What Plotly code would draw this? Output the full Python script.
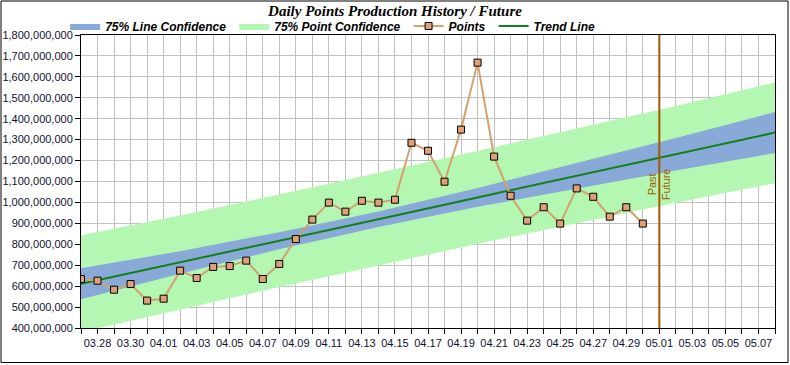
import plotly.graph_objects as go

# ---- data ----
point_dates = [
    "2023-03-27", "2023-03-28", "2023-03-29", "2023-03-30", "2023-03-31",
    "2023-04-01", "2023-04-02", "2023-04-03", "2023-04-04", "2023-04-05",
    "2023-04-06", "2023-04-07", "2023-04-08", "2023-04-09", "2023-04-10",
    "2023-04-11", "2023-04-12", "2023-04-13", "2023-04-14", "2023-04-15",
    "2023-04-16", "2023-04-17", "2023-04-18", "2023-04-19", "2023-04-20",
    "2023-04-21", "2023-04-22", "2023-04-23", "2023-04-24", "2023-04-25",
    "2023-04-26", "2023-04-27", "2023-04-28", "2023-04-29", "2023-04-30",
]
points_millions = [
    634, 626, 583, 610, 531, 540, 674, 639, 692, 696,
    722, 634, 706, 825, 918, 999, 956, 1008, 999, 1013,
    1285, 1247, 1099, 1348, 1668, 1219, 1032, 913, 977, 899,
    1067, 1027, 932, 977, 899,
]

band_dates = ["2023-03-27", "2023-04-02", "2023-04-08", "2023-04-14",
              "2023-04-20", "2023-04-26", "2023-05-02", "2023-05-08"]
trend_millions = [611, 713, 817, 920, 1024, 1127, 1230, 1334]
line_hi_millions = [686, 767, 858, 957, 1069, 1187, 1308, 1432]
line_lo_millions = [537, 659, 776, 883, 979, 1067, 1152, 1236]
point_hi_millions = [843, 937, 1038, 1141, 1246, 1353, 1461, 1573]
point_lo_millions = [380, 489, 596, 699, 802, 901, 999, 1092]

divider_date = "2023-05-01"
divider_label_value = 1088e6

M = 1e6
pts = [v * M for v in points_millions]
trend = [v * M for v in trend_millions]
lhi = [v * M for v in line_hi_millions]
llo = [v * M for v in line_lo_millions]
phi = [v * M for v in point_hi_millions]
plo = [v * M for v in point_lo_millions]

GREEN_FILL = "#b3f7b3"
BLUE_FILL = "#89aad9"
PT_LINE = "#d4a070"
PT_FILL = "#dfa276"
TREND = "#138013"
BROWN = "#a05a00"
NB = "\u00a0"

fig = go.Figure()

# point confidence band (green)
fig.add_trace(go.Scatter(x=band_dates, y=plo, mode="lines", line=dict(width=0, color=GREEN_FILL),
                         showlegend=False, hoverinfo="skip"))
fig.add_trace(go.Scatter(x=band_dates, y=phi, mode="lines", line=dict(width=0, color=GREEN_FILL),
                         fill="tonexty", fillcolor=GREEN_FILL, name="75% Point Confidence" + NB,
                         legendrank=2))
# line confidence band (blue)
fig.add_trace(go.Scatter(x=band_dates, y=llo, mode="lines", line=dict(width=0, color=BLUE_FILL),
                         showlegend=False, hoverinfo="skip"))
fig.add_trace(go.Scatter(x=band_dates, y=lhi, mode="lines", line=dict(width=0, color=BLUE_FILL),
                         fill="tonexty", fillcolor=BLUE_FILL, name="75% Line Confidence" + NB,
                         legendrank=1))
# trend
fig.add_trace(go.Scatter(x=band_dates, y=trend, mode="lines", line=dict(width=2, color=TREND),
                         name="Trend Line", legendrank=4))
# points
fig.add_trace(go.Scatter(x=point_dates, y=pts, mode="lines+markers",
                         line=dict(width=2, color=PT_LINE),
                         marker=dict(symbol="square", size=7, color=PT_FILL,
                                     line=dict(width=1, color="black")),
                         name="Points" + NB, legendrank=3))

# divider
fig.add_shape(type="line", x0=divider_date, x1=divider_date, yref="paper", y0=0, y1=1,
              line=dict(color=BROWN, width=2))
fig.add_annotation(x=divider_date, y=divider_label_value, text="Past", textangle=-90,
                   showarrow=False, xshift=-7, font=dict(family="Liberation Sans", size=11, color=BROWN))
fig.add_annotation(x=divider_date, y=divider_label_value, text="Future", textangle=-90,
                   showarrow=False, xshift=7, font=dict(family="Liberation Sans", size=11, color=BROWN))

# outer border
fig.add_shape(type="rect", xref="paper", yref="paper",
              x0=(1 - 81) / 694, x1=(788 - 81) / 694, y0=(328 - 362.5) / 293, y1=(328 - 1) / 293,
              line=dict(color="black", width=1), layer="above")

DAY = 86400000
tickfont = dict(family="Liberation Sans", size=11, color="#101030")

fig.update_layout(
    width=790, height=365,
    margin=dict(l=81, r=15, t=35, b=37, autoexpand=False),
    paper_bgcolor="white", plot_bgcolor="white",
    title=dict(text="Daily Points Production History / Future", x=0.5, xanchor="center",
               y=1 - 11 / 365, yanchor="middle",
               font=dict(family="Liberation Serif", size=15, color="black", weight="bold", style="italic")),
    legend=dict(orientation="h", x=-0.0228, xanchor="left", y=(328 - 26) / 293, yanchor="middle",
                font=dict(family="Liberation Sans", size=12, color="black", weight="bold", style="italic"),
                bgcolor="rgba(0,0,0,0)", traceorder="normal", itemwidth=30),
    showlegend=True,
    hovermode=False,
)

fig.update_xaxes(
    type="date", range=["2023-03-27", "2023-05-08"], automargin=False,
    tick0="2023-03-28", dtick=2 * DAY, tickformat="%m.%d",
    showgrid=True, gridcolor="#c0c0c0", gridwidth=1,
    ticks="outside", ticklen=5, tickcolor="black",
    minor=dict(dtick=DAY, tick0="2023-03-27", showgrid=True, gridcolor="#c0c0c0",
               ticks="outside", ticklen=5, tickcolor="black"),
    showline=True, linecolor="black", linewidth=1, mirror=True,
    tickfont=tickfont, zeroline=False,
)
fig.update_yaxes(
    range=[400e6, 1800e6], dtick=100e6, tickformat=",", automargin=False,
    showgrid=True, gridcolor="#c0c0c0", gridwidth=1,
    ticks="outside", ticklen=5, tickcolor="black",
    showline=True, linecolor="black", linewidth=1, mirror=True,
    tickfont=tickfont, zeroline=False,
)

fig.write_html("out.html", config={"displayModeBar": False},
               post_script="document.body.style.margin='0';document.body.style.overflow='hidden';")
